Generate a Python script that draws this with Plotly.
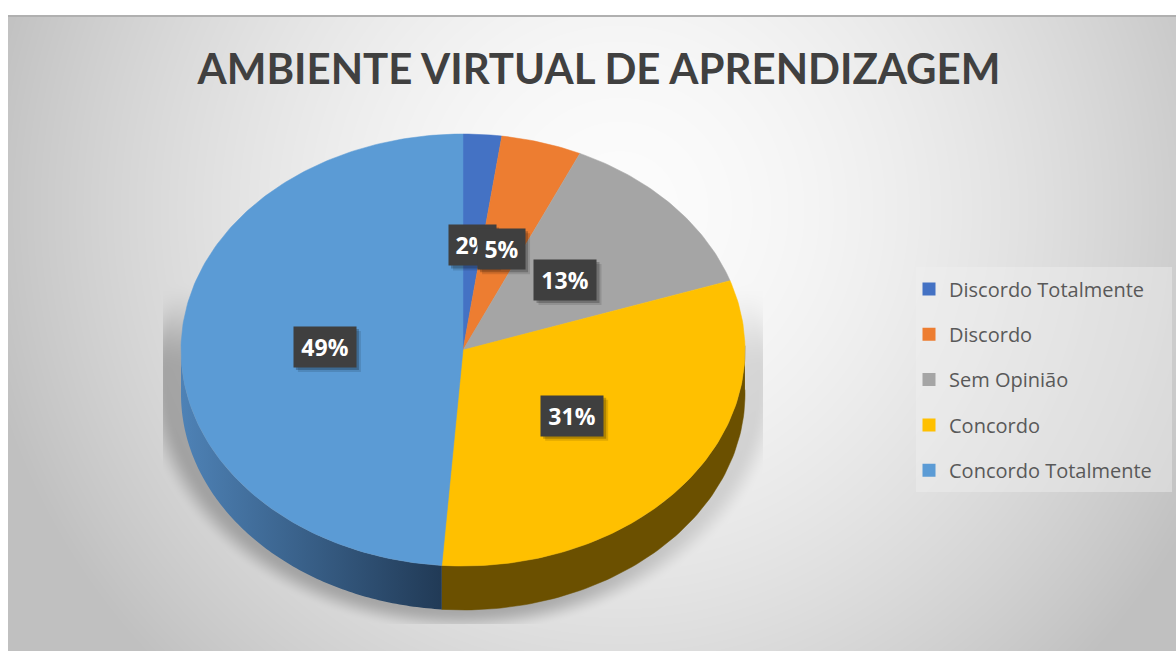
import numpy as np
import plotly.graph_objects as go

categories = ["Discordo Totalmente", "Discordo", "Sem Opinião", "Concordo", "Concordo Totalmente"]
values = [2.2, 4.6, 13.0, 31.4, 48.8]
colors = ["#4472C4", "#ED7D31", "#A5A5A5", "#FFC000", "#5B9BD5"]
title_text = "AMBIENTE VIRTUAL DE APRENDIZAGEM"

W, H = 1176, 651
CX, CY, RX, RY, DEPTH = 463, 350, 282, 216, 44
LABEL_F = 0.49


def ell(t, dy=0):
    return CX + RX * np.sin(t), CY - RY * np.cos(t) + dy


def smooth(a):
    a = np.clip(a, 0, 1)
    return a * a * (3 - 2 * a)


# background: radial grey gradient with soft pie shadow
px = np.arange(8, W) + 0.5
py = np.arange(15, H) + 0.5
X, Y = np.meshgrid(px, py)
d = np.sqrt(((X - 620) / 600) ** 2 + ((Y - 210) / 600) ** 2)
v = np.maximum(192, 252 - 52 * d ** 1.7)
r = np.sqrt(((X - 463) / 325) ** 2 + ((Y - 372) / 262) ** 2)
s = smooth((1.0 - r) / 0.09) * smooth((Y - 280) / 90)
s = s * (1 - 0.5 * smooth((X - 520) / 200))
s[(Y > 624) | (X < 163) | (X > 763)] = 0
v = v * (1 - 0.24 * s)
v[Y < 17] = 176
z = np.clip(v, 0, 255).astype(np.uint8)

fig = go.Figure()
fig.add_trace(go.Heatmap(x=px, y=py, z=z, zmin=0, zmax=255, showscale=False, hoverinfo="skip",
                         colorscale=[[0, "#000000"], [1, "#ffffff"]], showlegend=False))

total = sum(values)
fracs = np.cumsum([0] + values) / total
angles = fracs * 2 * np.pi

# side wall: yellow and blue visible below the top face
t_split = angles[4]
ty = np.linspace(np.pi / 2 - 0.02, t_split, 80)
xa, ya = ell(ty)
xb, yb = ell(ty[::-1], DEPTH)
fig.add_trace(go.Scatter(x=np.r_[xa, xb], y=np.r_[ya, yb], fill="toself", fillcolor="#6B5000", mode="lines",
                         line=dict(width=0.5, color="#6B5000"), hoverinfo="skip", showlegend=False))
tb = np.linspace(t_split, 1.5 * np.pi + 0.01, 120)
xa, ya = ell(tb)
xb, yb = ell(tb[::-1], DEPTH)
fig.add_trace(go.Scatter(x=np.r_[xa, xb], y=np.r_[ya, yb], fill="toself", mode="none",
                         fillgradient=dict(type="horizontal",
                                           colorscale=[[0, "rgb(78,130,182)"], [1, "rgb(33,58,86)"]],
                                           start=CX - RX, stop=float(xa[0])),
                         hoverinfo="skip", showlegend=False))

# top face wedges
for i, (cat, col) in enumerate(zip(categories, colors)):
    tt = np.linspace(angles[i], angles[i + 1], max(8, int(values[i] * 4)))
    xa, ya = ell(tt)
    fig.add_trace(go.Scatter(x=np.r_[CX, xa, CX], y=np.r_[CY, ya, CY], fill="toself", fillcolor=col, mode="lines",
                             line=dict(width=0.5, color=col), name=cat, showlegend=False,
                             hovertemplate=cat + ": %{text}<extra></extra>",
                             text=[f"{round(values[i])}%"] * (len(tt) + 2)))

# legend entries
for cat, col in zip(categories, colors):
    fig.add_trace(go.Scatter(x=[None], y=[None], mode="markers", name=cat, legendgroup=cat,
                             marker=dict(symbol="square", size=13, color=col)))

# data labels
shapes = [dict(type="rect", xref="x", yref="y", x0=916, x1=1172, y0=267, y1=492,
               fillcolor="rgba(240,240,240,0.45)", line=dict(width=0), layer="above")]
annotations = []
for i, val in enumerate(values):
    tm = (angles[i] + angles[i + 1]) / 2
    lx, ly = ell(tm)
    lx = CX + (lx - CX) * LABEL_F
    ly = CY + (ly - CY) * LABEL_F + 1
    w = 47 if val < 10 else 62
    for off, a in ((5, 0.12), (3, 0.22)):
        shapes.append(dict(type="rect", xref="x", yref="y", x0=lx - w / 2 + off - 1, x1=lx + w / 2 + off,
                           y0=ly - 20 + off - 1, y1=ly + 20 + off, fillcolor=f"rgba(0,0,0,{a})",
                           line=dict(width=0), layer="above"))
    annotations.append(dict(x=lx, y=ly, xref="x", yref="y", text=f"<b>{round(val)}%</b>", showarrow=False,
                            width=w, height=40, bgcolor="#3F3F3F", borderpad=0, align="center",
                            font=dict(family="Open Sans", size=23, color="#FFFFFF")))

fig.update_layout(
    width=W, height=H, autosize=False,
    margin=dict(l=0, r=0, t=0, b=0, pad=0),
    paper_bgcolor="#FFFFFF", plot_bgcolor="rgba(0,0,0,0)",
    title=dict(text=f"<b>{title_text}</b>", x=599 / W, y=1 - 69.5 / H, xanchor="center", yanchor="middle",
               xref="paper", yref="paper", font=dict(family="Lato", size=42, color="#404040")),
    xaxis=dict(range=[0, W], visible=False, fixedrange=True),
    yaxis=dict(range=[H, 0], visible=False, fixedrange=True),
    shapes=shapes, annotations=annotations,
    legend=dict(x=909 / W, y=1 - 269.5 / H, xanchor="left", yanchor="top", traceorder="grouped",
                tracegroupgap=16.3, itemwidth=30, bgcolor="rgba(0,0,0,0)",
                font=dict(family="Open Sans", size=20, color="#595959")),
    showlegend=True,
)

fig.write_html("out.html", config={"displayModeBar": False},
               post_script="document.body.style.margin='0';document.body.style.overflow='hidden';")
